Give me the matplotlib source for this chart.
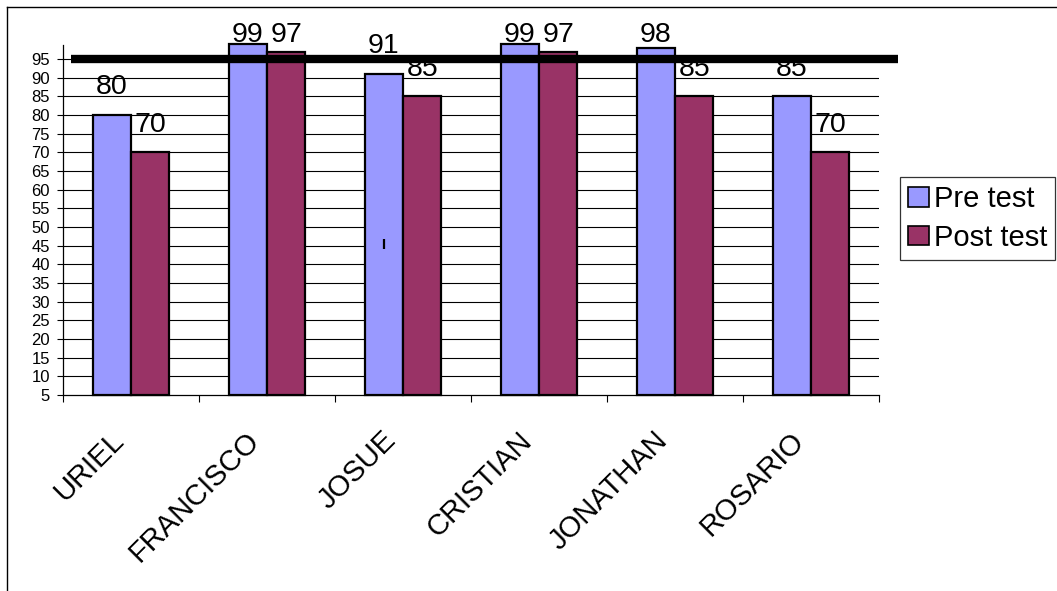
import matplotlib
matplotlib.use("Agg")
import matplotlib.pyplot as plt
from matplotlib.lines import Line2D
import numpy as np

plt.rcParams['font.family'] = ['Liberation Sans', 'DejaVu Sans']

students = ["URIEL", "FRANCISCO", "JOSUE", "CRISTIAN", "JONATHAN", "ROSARIO"]
pre_test = [80, 99, 91, 99, 98, 85]
post_test = [70, 97, 85, 97, 85, 70]
y_ticks = list(range(5, 100, 5))
target = 95

PRE_COLOR = "#9999FF"
POST_COLOR = "#993366"

W, H = 1057, 591
fig = plt.figure(figsize=(W / 100, H / 100), dpi=100)

# outer chart frame (top and left edges)
fig.add_artist(Line2D([7 / W, 7 / W], [0, 1 - 7 / H], color="black", lw=1.0))
fig.add_artist(Line2D([7 / W, 1], [1 - 7 / H, 1 - 7 / H], color="black", lw=1.0))

left, right, top, bottom = 63, 879, 45, 395
ax = fig.add_axes([left / W, 1 - bottom / H, (right - left) / W, (bottom - top) / H])

x = np.arange(len(students))
bw = 0.283

ax.set_xlim(-0.5, len(students) - 0.5)
ax.set_ylim(5, 98.75)

# horizontal gridlines
for v in y_ticks[1:]:
    ax.axhline(v, color="black", lw=0.8, zorder=1)

bars_pre = ax.bar(x - bw / 2, [v - 5 for v in pre_test], bw, bottom=5, color=PRE_COLOR,
                  edgecolor="black", linewidth=1.6, zorder=3, clip_on=False, label="Pre test")
bars_post = ax.bar(x + bw / 2, [v - 5 for v in post_test], bw, bottom=5, color=POST_COLOR,
                   edgecolor="black", linewidth=1.6, zorder=3, clip_on=False, label="Post test")

# value labels above bars, kept inside the chart area at the top
label_gap = 5.5
label_ceiling = 99.5
for xs, vals in ((x - bw / 2, pre_test), (x + bw / 2, post_test)):
    for xi, v in zip(xs, vals):
        ax.text(xi, min(v + label_gap, label_ceiling), str(v), ha="center",
                va="baseline", fontsize=20.5, zorder=4, clip_on=False)

# target line
ax.plot([-0.44, 5.64], [target, target], color="black", lw=6, solid_capstyle="butt",
        zorder=6, clip_on=False)

# small mark inside the JOSUE bar
ax.plot([2 - bw / 2, 2 - bw / 2], [44.2, 46.8], color="black", lw=1.6, zorder=5,
        solid_capstyle="butt")

for s in ["top", "right"]:
    ax.spines[s].set_visible(False)
ax.spines["left"].set_linewidth(0.9)
ax.spines["bottom"].set_linewidth(0.9)
ax.spines["left"].set_zorder(2)

ax.set_yticks(y_ticks)
ax.set_yticklabels([str(v) for v in y_ticks], fontsize=12)
ax.tick_params(axis="y", direction="out", length=4.5, width=0.8, pad=5)

ax.set_xticks(np.arange(-0.5, len(students), 1.0))
ax.set_xticklabels([])
ax.tick_params(axis="x", direction="out", length=5, width=0.8)

# rotated category labels
for xi, name in zip(x, students):
    ax.annotate(name, (xi, 0), xycoords=("data", "axes fraction"), xytext=(-15.5, -22.5),
                textcoords="offset points", ha="right", va="top", rotation=45,
                rotation_mode="anchor", fontsize=21)

leg = fig.legend(handles=[bars_pre, bars_post], loc="upper left",
                 bbox_to_anchor=(900 / W, 1 - 177 / H), fontsize=21,
                 frameon=True, fancybox=False, borderpad=0.28, handlelength=0.72,
                 handleheight=0.65, handletextpad=0.15, labelspacing=0.36,
                 borderaxespad=0)
leg.get_frame().set_edgecolor("black")
leg.get_frame().set_linewidth(0.9)
for p in leg.get_patches():
    p.set_linewidth(1.2)

fig.savefig("out.png", dpi=100)
